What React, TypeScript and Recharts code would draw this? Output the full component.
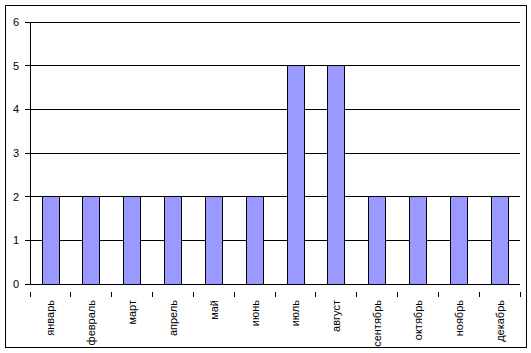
import { BarChart, Bar, XAxis, YAxis, CartesianGrid } from 'recharts'

const months = [
  'январь', 'февраль', 'март', 'апрель', 'май', 'июнь',
  'июль', 'август', 'сентябрь', 'октябрь', 'ноябрь', 'декабрь',
]
const values = [2, 2, 2, 2, 2, 2, 5, 5, 2, 2, 2, 2]
const yTicks = [0, 1, 2, 3, 4, 5, 6]

const data = months.map((m, i) => ({ month: m, value: values[i] }))

const W = 531
const H = 353
const LEFT = 30
const RIGHT = 11
const band = (W - LEFT - RIGHT) / months.length
const FONT = 'Arial, "Liberation Sans", sans-serif'

function MonthTick(props: any) {
  const { x, y, payload, index } = props
  const left = x - band / 2
  return (
    <g shapeRendering="crispEdges">
      <line x1={left} y1={y} x2={left} y2={y + 5} stroke="#000" />
      {index === months.length - 1 && (
        <line x1={left + band} y1={y} x2={left + band} y2={y + 5} stroke="#000" />
      )}
      <text
        x={0}
        y={0}
        transform={`translate(${x + 4},${y + 8}) rotate(-90)`}
        textAnchor="end"
        fontSize={11}
        fontFamily={FONT}
        fill="#000"
      >
        {payload.value}
      </text>
    </g>
  )
}

export default function App() {
  return (
    <div style={{ position: 'absolute', left: 0, top: 0, width: W, height: H, background: '#fff' }}>
      <div
        style={{
          position: 'absolute', left: 5, top: 5, width: 522, height: 343,
          border: '1px solid #000', boxSizing: 'border-box',
        }}
      />
      <BarChart
        width={W}
        height={H}
        data={data}
        margin={{ top: 22, right: RIGHT, left: 0, bottom: 0 }}
        barCategoryGap={0}
        style={{ shapeRendering: 'crispEdges' }}
      >
        <CartesianGrid vertical={false} stroke="#000" strokeOpacity={1} />
        <XAxis
          dataKey="month"
          height={69}
          interval={0}
          tickLine={false}
          axisLine={{ stroke: '#000' }}
          tick={<MonthTick />}
        />
        <YAxis
          width={LEFT}
          domain={[0, 6]}
          ticks={yTicks}
          interval={0}
          tickSize={5}
          tickMargin={6}
          axisLine={{ stroke: '#000' }}
          tickLine={{ stroke: '#000' }}
          tick={{ fontSize: 11, fontFamily: FONT, fill: '#000' }}
        />
        <Bar
          dataKey="value"
          barSize={17}
          fill="#9999FF"
          stroke="#000"
          strokeWidth={1}
          isAnimationActive={false}
        />
      </BarChart>
    </div>
  )
}
